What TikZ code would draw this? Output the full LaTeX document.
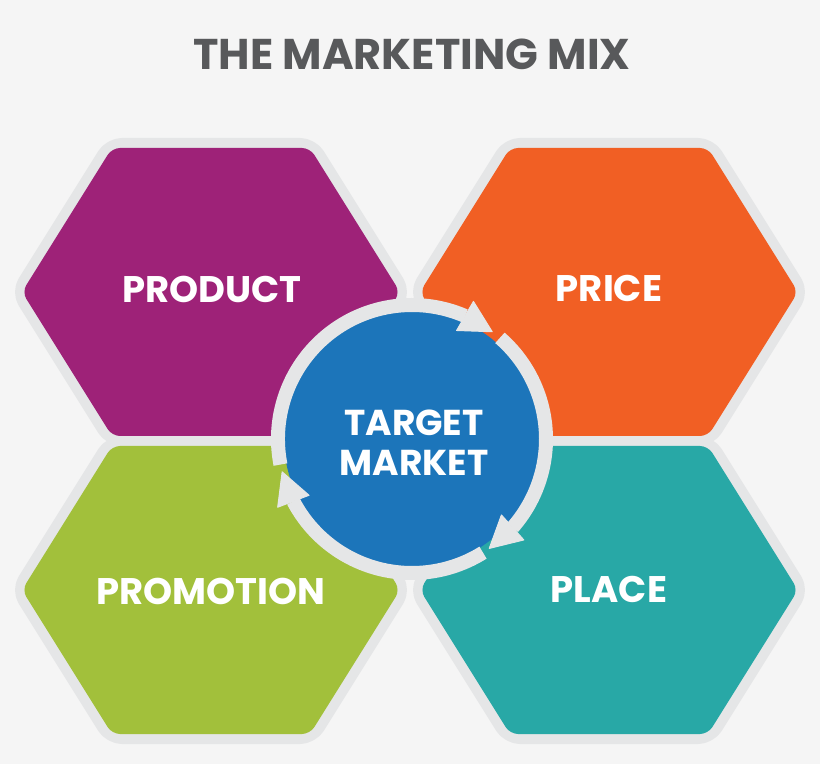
\documentclass[tikz,border=0pt]{standalone}
\usepackage{fontspec}
\setmainfont{Poppins}
\usetikzlibrary{arrows.meta,bending}

\definecolor{bgcol}{HTML}{F5F5F5}
\definecolor{rimgray}{HTML}{E5E6E7}
\definecolor{prodcol}{HTML}{9E2278}
\definecolor{pricecol}{HTML}{F15F24}
\definecolor{promocol}{HTML}{A2C03B}
\definecolor{placecol}{HTML}{28A8A6}
\definecolor{targetcol}{HTML}{1C75BA}
\definecolor{titlecol}{HTML}{58595B}

% one hexagon, centred on the origin
\newcommand{\hexpath}{(-189,0) -- (-99,144) -- (99,144) -- (189,0) -- (99,-144) -- (-99,-144) -- cycle}

\begin{document}
\begin{tikzpicture}[x=1pt,y=1pt]

    \tikzset{
      hexrim/.style={
        fill=rimgray,
        draw=rimgray,
        line width=20pt,
        line join=round,
        rounded corners=10pt,
      },
      hexfill/.style={
        fill=#1,
        rounded corners=8pt,
      },
      mixtext/.style={
        anchor=base,
        text=white,
        inner sep=0pt,
        font=\fontsize{37}{44}\selectfont\bfseries,
      },
      cyclearrow/.style={
        draw=rimgray,
        line width=14pt,
        -{Triangle[length=33pt,width=35pt,line width=1pt,round]},
      },
    }
    \useasboundingbox[fill=bgcol] (0,0) rectangle (820,764);

	% grey rims first, colours on top
	\foreach \cx/\cy in {211/472,609/472,211/174,609/174}
	  \draw[hexrim,shift={(\cx,\cy)}] \hexpath;
	\fill[hexfill=prodcol,shift={(211,472)}] \hexpath;
	\fill[hexfill=pricecol,shift={(609,472)}] \hexpath;
	\fill[hexfill=promocol,shift={(211,174)}] \hexpath;
	\fill[hexfill=placecol,shift={(609,174)}] \hexpath;

	\node (tm) [circle,fill=targetcol,minimum size=256pt,inner sep=0pt] at (412,325) {};
	\draw[cyclearrow] ([shift={(191:134)}]tm.center) arc[start angle=191,end angle=53,radius=134];
	\draw[cyclearrow] ([shift={(49:134)}]tm.center) arc[start angle=49,end angle=-55,radius=134];
	\draw[cyclearrow] ([shift={(-58:134)}]tm.center) arc[start angle=-58,end angle=-166,radius=134];

	\node (title) [anchor=base,text=titlecol,inner sep=0pt,font=\fontsize{43}{50}\selectfont\bfseries] at (412,694) {THE MARKETING MIX};
	\node (product) [mixtext] at (212,461) {PRODUCT};
	\node (price) [mixtext] at (609,462) {PRICE};
	\node (promotion) [mixtext] at (211,159) {PROMOTION};
	\node (place) [mixtext] at (609,161) {PLACE};
	\node (tmtext) [mixtext,anchor=center,align=center,font=\fontsize{36}{40}\selectfont\bfseries] at (414,321.5) {TARGET\\MARKET};

\end{tikzpicture}
\end{document}
